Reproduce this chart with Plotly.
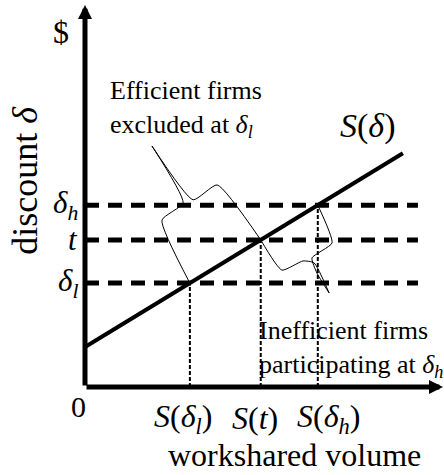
import plotly.graph_objects as go

# ---- data (abstract units: volume on x, dollars on y) ----
x_axis_end = 10.0
y_axis_end = 10.0
supply_intercept = 1.047
supply_slope = 0.571
supply_x_end = 8.88
dash_x_end = 9.30
level_names = ["δl", "t", "δh"]
level_values = [2.72, 3.85, 4.76]
level_labels = ["<i>δ</i><sub><i>l</i></sub>", "<i>t</i>", "<i>δ</i><sub><i>h</i></sub>"]
volume_labels = ["<i>S</i>(<i>δ</i><sub><i>l</i></sub>)", "<i>S</i>(<i>t</i>)", "<i>S</i>(<i>δ</i><sub><i>h</i></sub>)"]

# callout outlines
callout1_a_x = [2.15, 2.74, 1.87]
callout1_a_y = [4.37, 4.82, 6.31]
callout1_b_x = [1.87, 3.02, 3.69]
callout1_b_y = [6.31, 4.90, 5.29]
callout2_a_x = [6.90, 6.34, 6.48, 6.82]
callout2_a_y = [3.77, 3.38, 2.98, 2.46]
callout2_b_x = [6.82, 6.40, 6.09, 5.50]
callout2_b_y = [2.46, 3.25, 3.30, 3.06]

FONT = "Liberation Serif"

def S_inv(level):
    return (level - supply_intercept) / supply_slope

s_pts = {n: S_inv(v) for n, v in zip(level_names, level_values)}
lvl = dict(zip(level_names, level_values))

fig = go.Figure()

# dashed horizontal lines
for v in level_values:
    fig.add_trace(go.Scatter(x=[0, dash_x_end], y=[v, v], mode="lines",
                             line=dict(color="black", width=5, dash="14px,9px"),
                             hoverinfo="skip", showlegend=False))

# dotted vertical lines
for n in level_names:
    fig.add_trace(go.Scatter(x=[s_pts[n], s_pts[n]], y=[0, lvl[n]], mode="lines",
                             line=dict(color="black", width=2, dash="4px,2px"),
                             hoverinfo="skip", showlegend=False))

# supply line
fig.add_trace(go.Scatter(x=[0, supply_x_end],
                         y=[supply_intercept, supply_intercept + supply_slope * supply_x_end],
                         mode="lines", line=dict(color="black", width=4),
                         hoverinfo="skip", showlegend=False))

# callouts
c1a_x = [s_pts["δl"]] + callout1_a_x
c1a_y = [lvl["δl"]] + callout1_a_y
c1b_x = callout1_b_x + [s_pts["t"]]
c1b_y = callout1_b_y + [lvl["t"]]
c2a_x = [s_pts["δh"]] + callout2_a_x
c2a_y = [lvl["δh"]] + callout2_a_y
c2b_x = callout2_b_x + [s_pts["t"]]
c2b_y = callout2_b_y + [lvl["t"]]
for xs, ys in [(c1a_x, c1a_y), (c1b_x, c1b_y), (c2a_x, c2a_y), (c2b_x, c2b_y)]:
    fig.add_trace(go.Scatter(x=xs, y=ys, mode="lines",
                             line=dict(color="black", width=1, shape="spline", smoothing=0.5),
                             hoverinfo="skip", showlegend=False))

ann = []
# axes with arrowheads
for (hx, hy) in [(x_axis_end, 0), (0, y_axis_end)]:
    ann.append(dict(x=hx, y=hy, ax=0, ay=0, xref="x", yref="y", axref="x", ayref="y",
                    text="", showarrow=True, arrowhead=2, arrowsize=0.56, arrowwidth=5,
                    arrowcolor="black", standoff=0, startstandoff=0))

tf = dict(family=FONT, color="black")
ann.append(dict(x=-0.67, y=9.29, xref="x", yref="y", text="$", showarrow=False,
                font=dict(size=32, **tf)))
ann.append(dict(x=-1.68, y=5.42, xref="x", yref="y", text="discount <i>δ</i>", showarrow=False,
                textangle=-90, font=dict(size=36, **tf)))
for v, lab in zip(level_values, level_labels):
    ann.append(dict(x=0, y=v, xref="x", yref="y", text=lab, showarrow=False,
                    xanchor="right", yanchor="middle", xshift=-5, font=dict(size=31, **tf)))
ann.append(dict(x=0, y=0, xref="x", yref="y", text="0", showarrow=False,
                xshift=-7, yshift=-19, font=dict(size=30, **tf)))
for n, lab, xs in zip(level_names, volume_labels, [-7, -6, 11]):
    ann.append(dict(x=s_pts[n], y=0, xref="x", yref="y", text=lab, showarrow=False,
                    xshift=xs, yshift=-31, font=dict(size=32, **tf)))
ann.append(dict(x=0.664, y=-1.77, xref="paper", yref="y", text="workshared volume",
                showarrow=False, font=dict(size=32, **tf)))
ann.append(dict(x=7.88, y=6.83, xref="x", yref="y",
                text="<i>S</i>(<i>δ</i>)", showarrow=False, font=dict(size=34, **tf)))
ann.append(dict(x=0.64, y=8.19, xref="x", yref="y", xanchor="left", yanchor="top", align="left",
                text="Efficient firms<br>excluded at <i>δ</i><sub><i>l</i></sub>",
                showarrow=False, font=dict(size=26, **tf)))
ann.append(dict(x=4.80, y=1.91, xref="x", yref="y", xanchor="left", yanchor="top", align="left",
                text="Inefficient firms<br>participating at <i>δ</i><sub><i>h</i></sub>",
                showarrow=False, font=dict(size=26, **tf)))

fig.update_layout(
    width=444, height=475, margin=dict(l=0, r=0, t=0, b=0),
    paper_bgcolor="white", plot_bgcolor="white",
    xaxis=dict(range=[-85 / 35.8, 359 / 35.8], visible=False, fixedrange=True),
    yaxis=dict(range=[-88 / 38.2, 387 / 38.2], visible=False, fixedrange=True),
    annotations=ann, showlegend=False,
)
fig.write_html("out.html", config={"displayModeBar": False},
               post_script="document.body.style.margin='0';document.body.style.overflow='hidden';")
